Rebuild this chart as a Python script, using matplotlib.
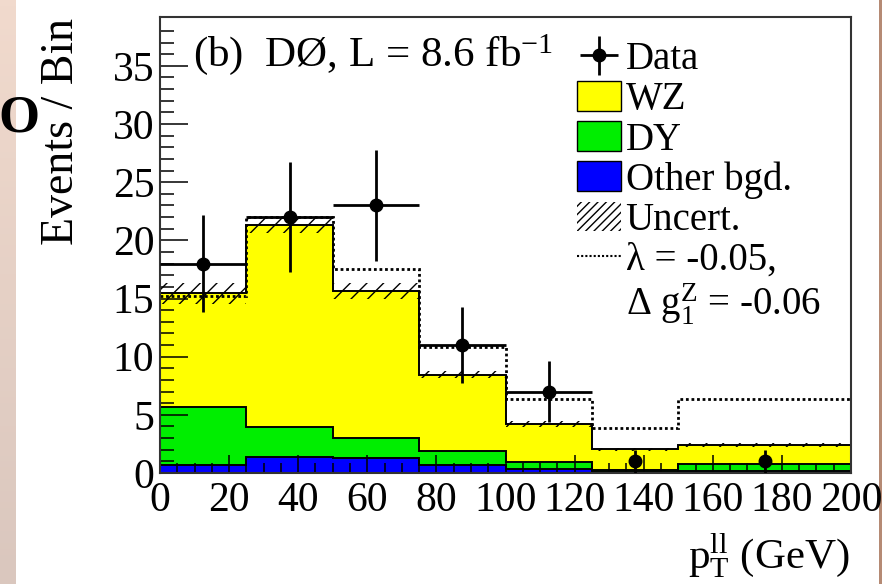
import numpy as np
import matplotlib.pyplot as plt
from matplotlib.patches import Patch
from matplotlib.lines import Line2D

plt.rcParams['font.family'] = ['Liberation Serif', 'DejaVu Serif']
plt.rcParams['mathtext.fontset'] = 'custom'
plt.rcParams['mathtext.rm'] = 'Liberation Serif'
plt.rcParams['mathtext.it'] = 'Liberation Serif'
plt.rcParams['hatch.linewidth'] = 1.0

# bin edges (GeV) and stacked predictions
edges = [0, 25, 50, 75, 100, 125, 150, 200]
other = [0.7, 1.4, 1.3, 0.65, 0.35, 0.12, 0.17]
dy = [4.95, 2.55, 1.7, 1.2, 0.62, 0.18, 0.58]
wz = [9.8, 17.35, 12.65, 6.58, 3.23, 1.74, 1.66]
unc = [0.9, 0.7, 0.7, 0.3, 0.25, 0.15, 0.15]
lam = [15.2, 22.05, 17.55, 10.85, 6.33, 3.84, 6.33]

# data
data_x = [12.5, 37.5, 62.5, 87.5, 112.5, 137.5, 175]
data_y = [18, 22, 23, 11, 7, 1, 1]
data_yerr = [4.2, 4.7, 4.8, 3.3, 2.6, 1.0, 1.0]
data_xerr = [12.5, 12.5, 12.5, 12.5, 12.5, 0, 0]

other = np.array(other)
lvl_dy = other + np.array(dy)
total = lvl_dy + np.array(wz)
unc = np.array(unc)

fig = plt.figure(figsize=(8.82, 5.84), dpi=100)

# slide background bits
grad = np.linspace(0, 1, 100)[:, None]
left = fig.add_axes([0, 0, 16/882, 1])
c0 = np.array([241, 218, 205]) / 255
c1 = np.array([218, 199, 190]) / 255
left.imshow((c0 + (c1 - c0) * grad[:, :, None]).reshape(100, 1, 3), aspect='auto')
left.axis('off')
right = fig.add_axes([879/882, 0, 3/882, 1])
right.set_facecolor('#b58a74')
right.set_xticks([]); right.set_yticks([])
for s in right.spines.values():
    s.set_visible(False)
fig.text(19/882, 1 - 119/584, 'O', fontsize=38, fontweight='bold',
         ha='center', va='center')

ax = fig.add_axes([160/882, 111/584, 691/882, 456/584])

ax.stairs(total, edges, baseline=0, fill=True, facecolor='#ffff00',
          edgecolor='black', linewidth=1.4)
ax.stairs(lvl_dy, edges, baseline=0, fill=True, facecolor='#00ee00',
          edgecolor='black', linewidth=1.4)
ax.stairs(other, edges, baseline=0, fill=True, facecolor='#0000ff',
          edgecolor='black', linewidth=1.4)
ax.stairs(total + unc, edges, baseline=total - unc, fill=True,
          facecolor='none', edgecolor='black', hatch='//', linewidth=0)
ax.stairs(lam, edges, baseline=None, color='black', linewidth=2,
          linestyle=(0, (1, 1)))
eb = ax.errorbar(data_x, data_y, yerr=data_yerr, xerr=data_xerr, fmt='o',
                 color='black', markersize=9, elinewidth=2, capsize=0,
                 zorder=5)

ax.set_xlim(0, 200)
ax.set_ylim(0, 39.2)
ax.set_xticks(np.arange(0, 201, 20))
ax.set_xticks(np.arange(0, 201, 5), minor=True)
ax.set_yticks(np.arange(0, 36, 5))
ax.set_yticks(np.arange(0, 39, 1), minor=True)
ax.tick_params(axis='both', which='both', direction='in', labelsize=30,
               width=1.1, color='black')
ax.tick_params(axis='y', which='major', length=20, pad=4)
ax.tick_params(axis='y', which='minor', length=10)
ax.tick_params(axis='x', which='major', length=13, pad=6)
ax.tick_params(axis='x', which='minor', length=7)
for s in ax.spines.values():
    s.set_color('#333333')
    s.set_linewidth(1.5)

fig.text(62/882, 1 - 18/584, 'Events / Bin', rotation=90, fontsize=33,
         ha='center', va='top')
fig.text(850/882, 1 - 569/584,
         r'$\mathrm{p}_{\mathrm{T}}^{\mathrm{ll}}$ (GeV)', fontsize=31,
         ha='right', va='baseline')
ax.text((193 - 160) / 691, (473 - 66) / 456,
        r'(b)  DØ, L = 8.6 fb$^{\mathrm{-1}}$', transform=ax.transAxes,
        fontsize=31, ha='left', va='baseline')

handles = [eb,
           Patch(facecolor='#ffff00', edgecolor='black'),
           Patch(facecolor='#00ee00', edgecolor='black'),
           Patch(facecolor='#0000ff', edgecolor='black'),
           Patch(facecolor='none', edgecolor='black', hatch='////', linewidth=0),
           Line2D([], [], color='black', linewidth=1.5, linestyle=(0, (1, 1))),
           Line2D([], [], alpha=0)]
labels = ['Data', 'WZ', 'DY', 'Other bgd.', 'Uncert.', 'λ = -0.05,',
          r'Δ g$_{\mathrm{1}}^{\mathrm{Z}}$ = -0.06']
ax.legend(handles, labels, loc='upper left',
          bbox_to_anchor=((577 - 160) / 691, (473 - 41) / 456),
          frameon=False, fontsize=28, borderpad=0, borderaxespad=0,
          handlelength=1.13, handleheight=0.8, handletextpad=0.12,
          labelspacing=0.07)

fig.savefig('out.png', dpi=100)
